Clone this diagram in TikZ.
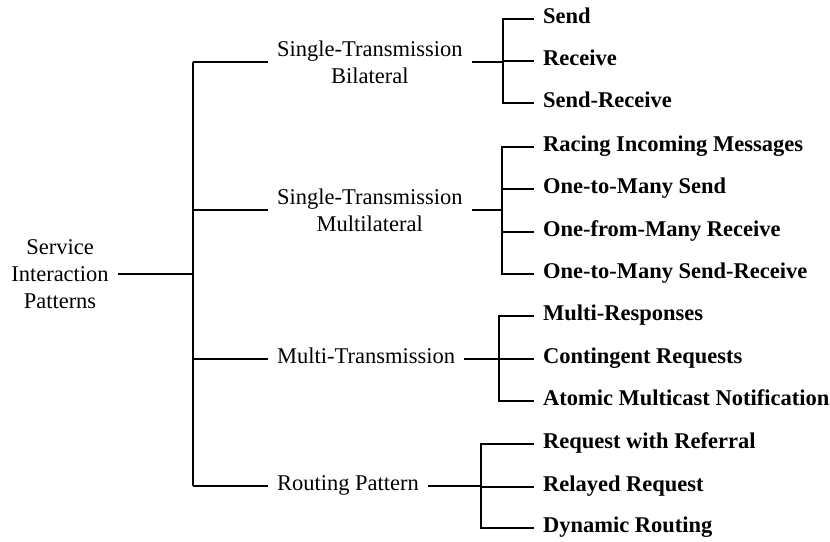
\documentclass[tikz,border=0pt]{standalone}
\usepackage{fontspec}
\setmainfont{Liberation Serif}
\begin{document}
\begin{tikzpicture}[x=0.025cm,y=-0.025cm,
  font=\fontsize{16}{19.2}\selectfont,
  every node/.style={inner sep=0.22cm},
  group/.style={anchor=west,align=center},
  single/.style={anchor=west,text height=0.68em,text depth=0pt},
  leaf/.style={anchor=west,font=\fontsize{16}{19.2}\selectfont\bfseries,text height=0.68em,text depth=0pt},
  bar/.style={line width=0.8pt},
  joint/.style={line width=1.5pt}]
\useasboundingbox (0,0) rectangle (830,541);
% root and trunk
\path (60,274) node[align=center] (root) {Service\\Interaction\\Patterns};
\coordinate (trunk) at (193,274);
\draw[joint] (root) -- (trunk);
% the four groups
\path (268,62) node[group] (bil) {Single-Transmission\\Bilateral};
\path (268,210) node[group] (mul) {Single-Transmission\\Multilateral};
\path (268,359) node[single] (mtx) {Multi-Transmission};
\path (268,486) node[single] (rout) {Routing Pattern};
\draw[line width=1.3pt] (trunk |- bil) -- (trunk |- rout);
\draw[bar] (trunk |- bil) -- (bil);
\draw[bar] (trunk |- mul) -- (mul);
\draw[bar] (trunk |- mtx) -- (mtx);
\draw[bar] (trunk |- rout) -- (rout);
% joints of the brackets
\coordinate (bilJ) at (503,62);
\coordinate (mulJ) at (502,210);
\coordinate (mtxJ) at (499,359);
\coordinate (routJ) at (481,486);
\draw[joint] (bil) -- (bilJ);
\draw[joint] (mul) -- (mulJ);
\draw[joint] (mtx) -- (mtxJ);
\draw[joint] (rout) -- (routJ);
% leaves
\path (534,19) node[leaf] (send) {Send};
\path (534,61) node[leaf] (recv) {Receive};
\path (534,103) node[leaf] (sendrecv) {Send-Receive};
\draw[bar] (send.west) -| (bilJ);
\draw[bar] (recv.west) -| (bilJ);
\draw[bar] (sendrecv.west) -| (bilJ);
\path (534,147) node[leaf] (racing) {Racing Incoming Messages};
\path (534,189) node[leaf] (otmsend) {One-to-Many Send};
\path (534,232) node[leaf] (ofmrecv) {One-from-Many Receive};
\path (534,274) node[leaf] (otmsr) {One-to-Many Send-Receive};
\draw[bar] (racing.west) -| (mulJ);
\draw[bar] (otmsend.west) -| (mulJ);
\draw[bar] (ofmrecv.west) -| (mulJ);
\draw[bar] (otmsr.west) -| (mulJ);
\path (534,316) node[leaf] (multiresp) {Multi-Responses};
\path (534,359) node[leaf] (contreq) {Contingent Requests};
\path (534,401) node[leaf] (atomic) {Atomic Multicast Notification};
\draw[bar] (multiresp.west) -| (mtxJ);
\draw[bar] (contreq.west) -| (mtxJ);
\draw[bar] (atomic.west) -| (mtxJ);
\path (534,444) node[leaf] (referral) {Request with Referral};
\path (534,487) node[leaf] (relayed) {Relayed Request};
\path (534,528) node[leaf] (dynrout) {Dynamic Routing};
\draw[bar] (referral.west) -| (routJ);
\draw[bar] (relayed.west) -| (routJ);
\draw[bar] (dynrout.west) -| (routJ);
\end{tikzpicture}
\end{document}
